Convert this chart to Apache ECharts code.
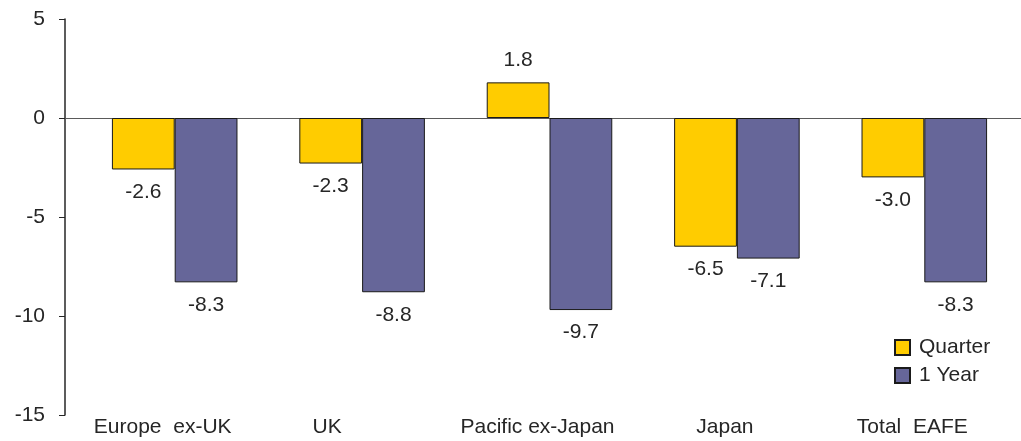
<!DOCTYPE html>
<html>
<head>
<meta charset="utf-8">
<script src="https://cdn.jsdelivr.net/npm/echarts@6/dist/echarts.min.js"></script>
<style>
  html, body { margin: 0; padding: 0; background: #fff; }
  #chart { width: 1021px; height: 441px; }
</style>
</head>
<body>
<div id="chart"></div>
<script>
// Regional returns (%)
const categories = ['Europe  ex-UK', 'UK', 'Pacific ex-Japan', 'Japan', 'Total  EAFE'];
const quarter = [-2.6, -2.3, 1.8, -6.5, -3.0];
const oneYear = [-8.3, -8.8, -9.7, -7.1, -8.3];
const yTicks = { min: -15, max: 5, interval: 5 };

const font = 'Liberation Sans, Arial, sans-serif';
const fontSize = 21;
const textColor = '#262626';

// category labels sit a little left of their band centre; "UK" further still
const axisData = categories.map(c => ({
  value: c,
  textStyle: { padding: [0, c === 'UK' ? 70 : 24, 0, 0] }
}));

// each value gets its label above (positive) or below (negative) the bar end
function withLabels(values) {
  return values.map(v => ({
    value: v,
    label: { position: v >= 0 ? 'top' : 'bottom' }
  }));
}

function barSeries(name, values, color) {
  return {
    name: name,
    type: 'bar',
    xAxisIndex: 1,
    yAxisIndex: 1,
    barGap: '0%',
    barCategoryGap: '33%',
    itemStyle: { color: color, borderColor: '#1a1a1a', borderWidth: 1 },
    label: {
      show: true,
      distance: 12,
      fontFamily: font,
      fontSize: fontSize,
      color: textColor,
      formatter: p => p.value.toFixed(1)
    },
    data: withLabels(values)
  };
}

const chart = echarts.init(document.getElementById('chart'));
chart.setOption({
  animation: false,
  backgroundColor: '#ffffff',
  legend: {
    orient: 'vertical',
    left: 889,
    top: 332,
    itemWidth: 15,
    itemHeight: 15,
    itemGap: 7,
    icon: 'rect',
    textStyle: { fontFamily: font, fontSize: fontSize, color: textColor, padding: [0, 0, 0, 4] },
    data: ['Quarter', '1 Year']
  },
  grid: [
    // axis frame: value axis and zero line
    { left: 65, right: 0, top: 19, bottom: 26 },
    // category band holding the bars
    { left: 81, right: 3, top: 19, bottom: 26 }
  ],
  xAxis: [
    {
      gridIndex: 0,
      type: 'value',
      min: 0,
      max: 1,
      axisLine: { show: true, onZero: true, lineStyle: { color: '#5a5a5a', width: 1 } },
      axisTick: { show: false },
      axisLabel: { show: false },
      splitLine: { show: false }
    },
    {
      gridIndex: 1,
      type: 'category',
      data: axisData,
      axisLine: { show: false, onZero: false },
      axisTick: { show: false },
      axisLabel: { interval: 0, margin: 2, fontFamily: font, fontSize: fontSize, color: textColor }
    }
  ],
  yAxis: [
    {
      gridIndex: 0,
      type: 'value',
      min: yTicks.min,
      max: yTicks.max,
      interval: yTicks.interval,
      axisLine: { show: true, lineStyle: { color: '#262626', width: 1.5 } },
      axisTick: { show: true, length: 6, lineStyle: { color: '#262626' } },
      axisLabel: { margin: 20, fontFamily: font, fontSize: fontSize, color: textColor },
      splitLine: { show: false }
    },
    {
      gridIndex: 1,
      type: 'value',
      min: yTicks.min,
      max: yTicks.max,
      interval: yTicks.interval,
      show: false,
      splitLine: { show: false }
    }
  ],
  series: [
    barSeries('Quarter', quarter, '#FFCC00'),
    barSeries('1 Year', oneYear, '#666699')
  ]
});
</script>
</body>
</html>
